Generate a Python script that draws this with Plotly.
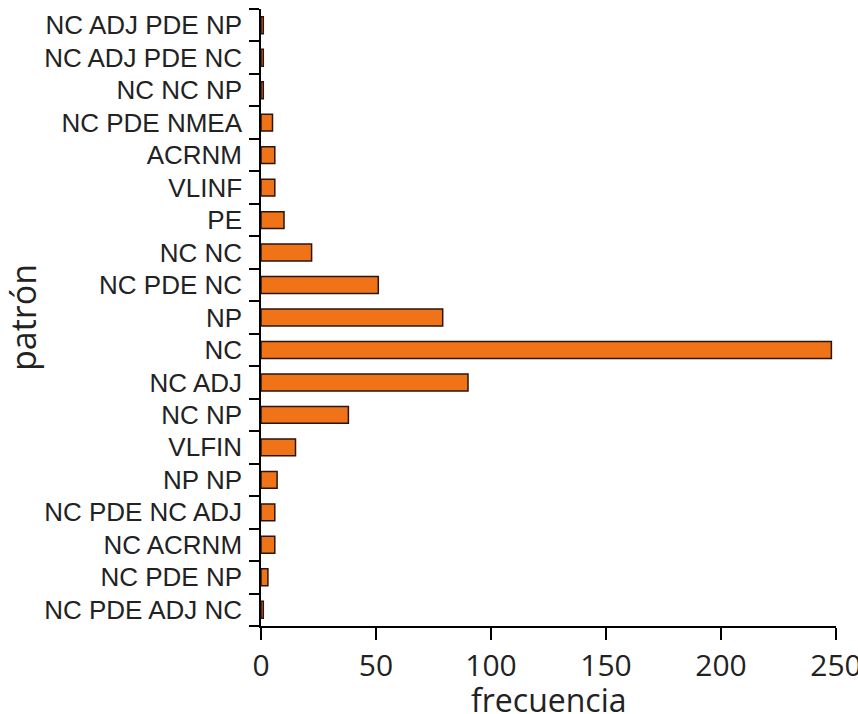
import plotly.graph_objects as go

patrones = ["NC PDE ADJ NC", "NC PDE NP", "NC ACRNM", "NC PDE NC ADJ", "NP NP",
            "VLFIN", "NC NP", "NC ADJ", "NC", "NP", "NC PDE NC", "NC NC", "PE",
            "VLINF", "ACRNM", "NC PDE NMEA", "NC NC NP", "NC ADJ PDE NC", "NC ADJ PDE NP"]
frecuencia = [1, 3, 6, 6, 7, 15, 38, 90, 248, 79, 51, 22, 10, 6, 6, 5, 1, 1, 1]
x_ticks = [0, 50, 100, 150, 200, 250]

fig = go.Figure(go.Bar(
    x=frecuencia, y=patrones, orientation="h",
    marker=dict(color="#F07318", line=dict(color="#2a1510", width=1.5)),
    width=0.52,
))

fig.update_layout(
    width=858, height=714,
    margin=dict(l=261, r=22, t=9, b=88, autoexpand=False),
    paper_bgcolor="white", plot_bgcolor="white",
    showlegend=False,
    xaxis=dict(
        range=[0, 250], tickvals=x_ticks, showgrid=False, zeroline=False,
        automargin=False, ticklabeloverflow="allow",
        showline=True, linecolor="black", linewidth=1.5,
        ticks="outside", ticklen=12, tickwidth=1.5, tickcolor="black",
        tickfont=dict(family="Open Sans", size=30, color="#222"),
    ),
    yaxis=dict(
        type="category", categoryorder="array", categoryarray=patrones,
        range=[-0.5, 18.5], showgrid=False, zeroline=False,
        automargin=False,
        showline=True, linecolor="black", linewidth=1.5,
        ticks="outside", ticklen=10, tickwidth=1.5, tickcolor="black",
        tickson="boundaries", ticklabelstandoff=12,
        tickfont=dict(family="Liberation Sans", size=26, color="#222"),
        title=dict(text="patrón", font=dict(family="Open Sans", size=34, color="#222"), standoff=0),
    ),
    annotations=[dict(
        text="frecuencia", xref="paper", yref="paper", x=0.5, y=0,
        xanchor="center", yanchor="middle", yshift=-73, showarrow=False,
        font=dict(family="Open Sans", size=32, color="#222"),
    )],
)

fig.write_html("out.html", config={"displayModeBar": False},
               post_script="document.body.style.margin='0';document.body.style.overflow='hidden';")
